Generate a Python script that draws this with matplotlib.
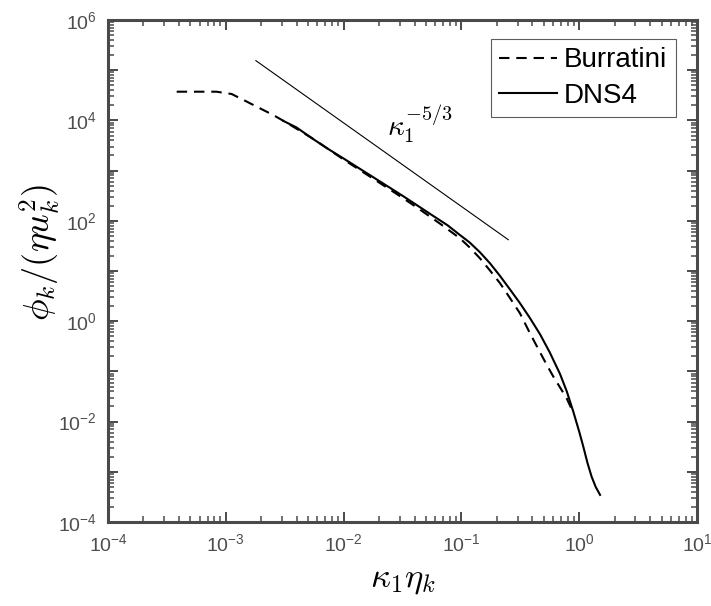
import matplotlib
matplotlib.use('Agg')
from matplotlib import pyplot as plt
from matplotlib.ticker import FixedLocator, FuncFormatter, NullFormatter
import numpy as np

plt.rcParams['font.family'] = ['Liberation Sans', 'DejaVu Sans']
plt.rcParams['mathtext.fontset'] = 'cm'

# Burratini spectrum (dashed)
burratini_x = [3.83e-4, 8.32e-4, 1.12e-3, 1.51e-3, 1.95e-3, 2.51e-3, 3.31e-3, 5.62e-3,
               1.0e-2, 1.78e-2, 3.16e-2, 4.47e-2, 6.61e-2, 9.73e-2, 0.1175, 0.144,
               0.175, 0.213, 0.257, 0.314, 0.380, 0.465, 0.525, 0.604,
               0.692, 0.783, 0.902]
burratini_y = [3.73e4, 3.73e4, 3.36e4, 2.36e4, 1.74e4, 1.29e4, 8.91e3, 4.17e3,
               1.66e3, 692, 288, 166, 87.1, 44.7, 29.5, 17.8,
               10.2, 5.69, 2.95, 1.44, 0.589, 0.240, 0.141, 0.0783,
               0.0468, 0.0291, 0.0141]

# DNS4 spectrum (solid)
dns4_x = [3.08e-3, 3.98e-3, 5.50e-3, 7.41e-3, 1.0e-2, 1.78e-2, 3.16e-2, 4.20e-2,
          5.62e-2, 7.59e-2, 9.73e-2, 0.1175, 0.144, 0.175, 0.213, 0.257,
          0.314, 0.380, 0.465, 0.562, 0.687, 0.785, 0.891, 1.0,
          1.084, 1.175, 1.276, 1.380, 1.503]
dns4_y = [9.77e3, 7.24e3, 4.27e3, 2.69e3, 1.74e3, 741, 316, 204,
          130, 82.2, 52.0, 37.0, 23.5, 14.2, 7.94, 4.37,
          2.29, 1.175, 0.550, 0.240, 0.0891, 0.0398, 0.0158, 6.31e-3,
          3.16e-3, 1.51e-3, 7.94e-4, 5.01e-4, 3.47e-4]

# -5/3 reference line end points
ref_x = [1.8e-3, 0.25]
ref_y = [1.55e5, 42]

x_decades = range(-4, 2)
y_decades = range(-4, 7)

fig = plt.figure(figsize=(7.11, 6.06), dpi=100)
ax = fig.add_axes([108 / 711, 1 - 522 / 606, 589 / 711, 502 / 606])

ax.loglog(burratini_x, burratini_y, color='black', lw=1.5, ls=(0, (5, 3.3)), label='Burratini')
ax.loglog(dns4_x, dns4_y, color='black', lw=1.5, label='DNS4')
ax.loglog(ref_x, ref_y, color='black', lw=0.8)

ax.text(0.0235, 8.5e3, r'$\kappa_1^{-5/3}$', fontsize=21, ha='left', va='center')

ax.set_xlim(10.0 ** x_decades[0], 10.0 ** x_decades[-1])
ax.set_ylim(10.0 ** y_decades[0], 10.0 ** y_decades[-1])

# decade ticks plus 2..9 minor ticks, MATLAB style
ax.xaxis.set_major_locator(FixedLocator([10.0 ** e for e in x_decades]))
ax.yaxis.set_major_locator(FixedLocator([10.0 ** e for e in y_decades]))
ax.xaxis.set_minor_locator(FixedLocator([m * 10.0 ** e for e in x_decades[:-1] for m in range(2, 10)]))
ax.yaxis.set_minor_locator(FixedLocator([m * 10.0 ** e for e in y_decades[:-1] for m in range(2, 10)]))
ax.xaxis.set_minor_formatter(NullFormatter())
ax.yaxis.set_minor_formatter(NullFormatter())


def sci_label(v, pos, step=1):
    e = int(round(np.log10(v)))
    if e % step:
        return ''
    return r'$\mathdefault{10^{%d}}$' % e


ax.xaxis.set_major_formatter(FuncFormatter(lambda v, p: sci_label(v, p, 1)))
ax.yaxis.set_major_formatter(FuncFormatter(lambda v, p: sci_label(v, p, 2)))

spine_color = '#4a4a4a'
for s in ax.spines.values():
    s.set_color(spine_color)
    s.set_linewidth(2.2)
ax.tick_params(which='both', direction='in', top=True, right=True, colors=spine_color,
               labelcolor='#4d4d4d', labelsize=14)
ax.tick_params(which='major', length=7, width=1.4, pad=8)
ax.tick_params(which='minor', length=4, width=1.1)

ax.set_xlabel(r'$\kappa_1\eta_k$', fontsize=25, labelpad=6)
ax.set_ylabel(r'$\phi_k/(\eta u_k^2)$', fontsize=26)
ax.yaxis.set_label_coords(-0.078, 0.538)

leg = ax.legend(loc='upper right', fontsize=20, frameon=True, fancybox=False,
                edgecolor='#333333', handlelength=2.1, handletextpad=0.25,
                borderpad=0.3, labelspacing=0.35, borderaxespad=0,
                bbox_to_anchor=(0.964, 0.962))
leg.get_frame().set_linewidth(0.8)

fig.savefig('out.png', dpi=100)
